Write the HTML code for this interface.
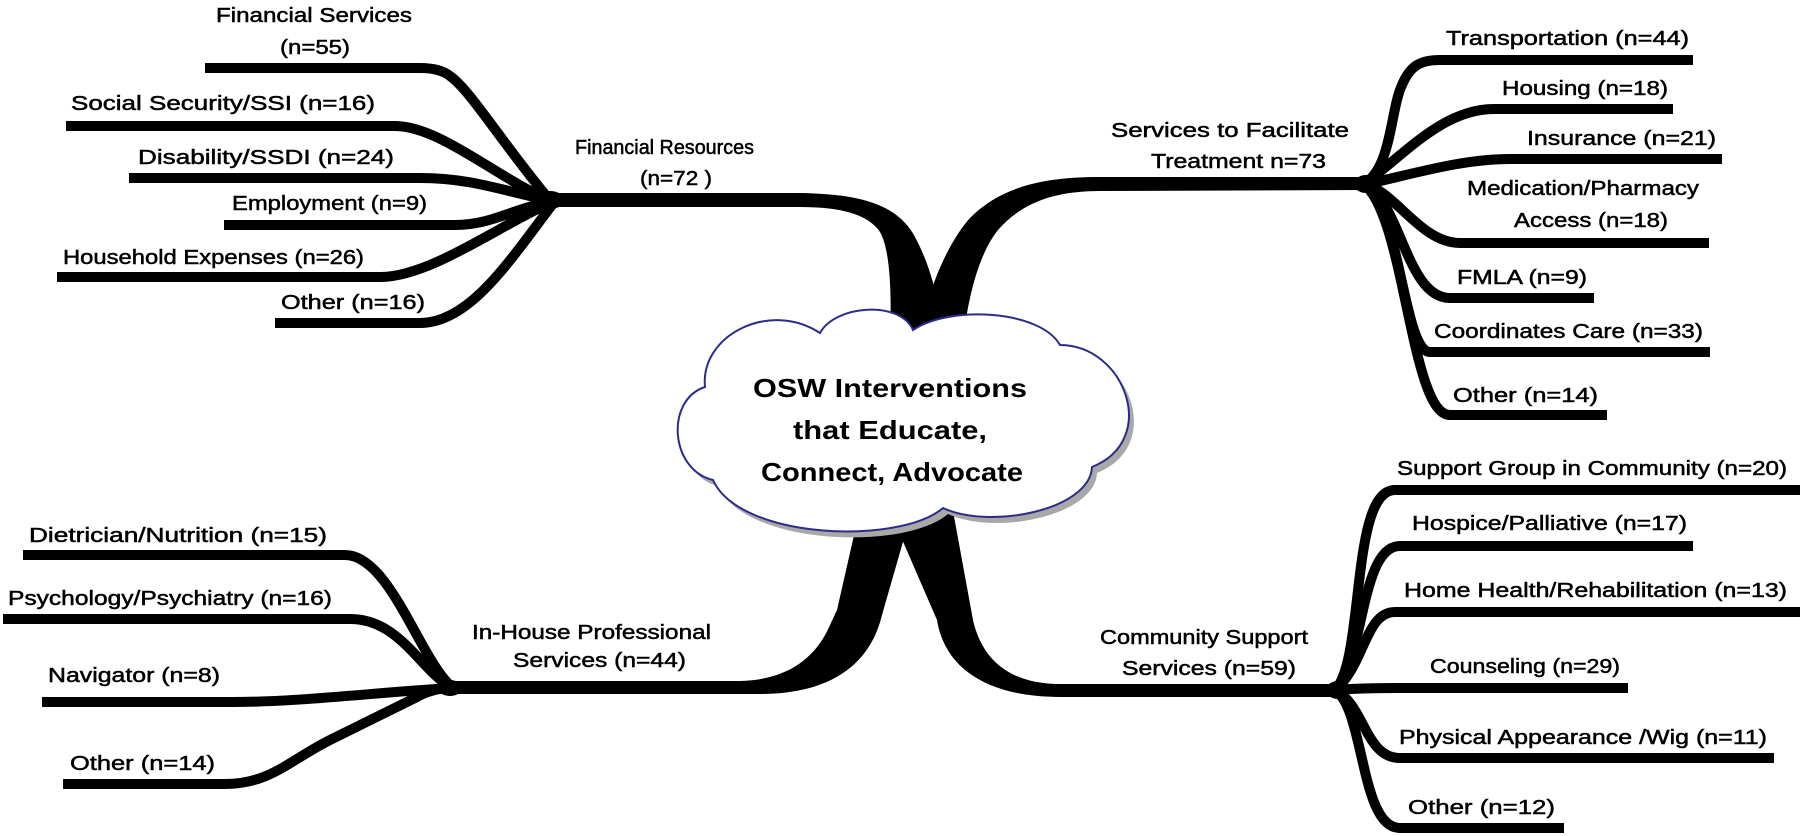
<!DOCTYPE html>
<html>
<head>
<meta charset="utf-8">
<style>
  html,body{margin:0;padding:0;background:#fff;}
  svg{display:block;}
  .lb{font-family:"Comic Sans MS","Liberation Sans",sans-serif;font-size:20px;fill:#000;stroke:#000;stroke-width:0.5px;}
  .tt{font-family:"Comic Sans MS","Liberation Sans",sans-serif;font-size:26px;font-weight:bold;fill:#000;}
  .br{fill:none;stroke:#000;stroke-width:10;stroke-linecap:butt;stroke-linejoin:round;}
</style>
</head>
<body>
<svg width="1800" height="836" viewBox="0 0 1800 836" xmlns="http://www.w3.org/2000/svg">
  <rect width="1800" height="836" fill="#fff"/>

  <!-- Main trunk branches -->
  <!-- Financial Resources (upper-left) -->
  <path d="M 550,193 L 800,193 C 862,194 898,205 915,237 C 930,265 940,300 945,350 L 890,350 C 892,290 890,250 880,232 C 868,214 840,207 800,207 L 550,207 Z" fill="#000"/>
  <!-- Services to Facilitate (upper-right) -->
  <path d="M 1372,177 L 1100,177 C 1040,177 1000,188 970,218 C 950,240 925,290 918,350 L 962,350 C 967,300 978,255 998,230 C 1020,205 1050,191 1100,191 L 1372,190 Z" fill="#000"/>
  <!-- In-House (lower-left) -->
  <path d="M 862,500 L 915,500 L 882,615 C 870,665 830,694 760,694 L 445,694 L 445,681 L 740,681 C 785,680 815,660 830,625 L 837,610 Z" fill="#000"/>
  <!-- Community (lower-right) -->
  <path d="M 885,500 L 951,500 L 973,620 C 982,660 1010,684 1060,684 L 1342,684 L 1342,697 L 1060,697 C 990,697 945,670 937,620 Z" fill="#000"/>

  <!-- Financial sub-branches -->
  <path class="br" d="M 548,198 C 500,140 470,90 450,76 Q 440,68 420,68 L 205,68"/>
  <path class="br" d="M 548,199 C 500,180 440,126 395,126 L 66,126"/>
  <path class="br" d="M 548,200 C 500,190 470,178 420,178 L 129,178"/>
  <path class="br" d="M 548,202 C 510,210 490,225 455,225 L 224,225"/>
  <path class="br" d="M 550,203 C 500,225 430,277 380,277 L 57,277"/>
  <path class="br" d="M 552,205 C 510,260 470,323 420,323 L 275,323"/>
  <ellipse cx="550" cy="200" rx="14" ry="9" fill="#000"/>

  <!-- Services sub-branches -->
  <path class="br" d="M 1362,185 C 1392,170 1390,110 1402,85 C 1410,66 1420,60 1440,60 L 1693,60"/>
  <path class="br" d="M 1362,185 C 1400,160 1440,109 1494,109 L 1673,109"/>
  <path class="br" d="M 1362,185 C 1410,175 1460,159 1510,159 L 1722,159"/>
  <path class="br" d="M 1362,183 C 1395,190 1420,243 1460,243 L 1709,243"/>
  <path class="br" d="M 1362,183 C 1400,195 1405,298 1450,298 L 1594,298"/>
  <path class="br" d="M 1362,183 C 1400,200 1403,352 1430,352 L 1710,352"/>
  <path class="br" d="M 1362,183 C 1405,210 1410,415 1450,415 L 1607,415"/>
  <ellipse cx="1366" cy="184" rx="12" ry="9" fill="#000"/>

  <!-- Community sub-branches -->
  <path class="br" d="M 1335,690 C 1365,660 1350,490 1395,490 L 1800,490"/>
  <path class="br" d="M 1335,690 C 1365,660 1360,546 1400,546 L 1693,546"/>
  <path class="br" d="M 1335,690 C 1365,665 1365,612 1395,612 L 1800,612"/>
  <path class="br" d="M 1335,690 C 1360,688 1380,688 1430,688 L 1628,688"/>
  <path class="br" d="M 1335,690 C 1365,705 1365,758 1400,758 L 1774,758"/>
  <path class="br" d="M 1335,690 C 1365,710 1360,828 1400,828 L 1564,828"/>
  <ellipse cx="1338" cy="690" rx="12" ry="9" fill="#000"/>

  <!-- In-House sub-branches -->
  <path class="br" d="M 452,687 C 420,660 390,555 345,555 L 23,555"/>
  <path class="br" d="M 452,688 C 420,670 400,619 350,619 L 3,619"/>
  <path class="br" d="M 452,688 C 380,692 300,702 233,702 L 42,702"/>
  <path class="br" d="M 452,687 C 435,689 425,692 417,697 L 330,740 C 290,760 270,784 225,784 L 63,784"/>
  <ellipse cx="450" cy="688" rx="12" ry="8" fill="#000"/>

  <!-- Cloud shadow -->
  <path d="M 705,387 C 700,335 770,300 820,333 C 835,305 900,300 913,330 C 950,305 1040,310 1060,345 C 1125,345 1160,440 1092,467 C 1090,510 990,530 943,508 C 900,545 740,540 713,480 C 670,470 665,400 705,387 Z" fill="#a8a8a8" transform="translate(5,6)"/>
  <!-- Cloud -->
  <path d="M 705,387 C 700,335 770,300 820,333 C 835,305 900,300 913,330 C 950,305 1040,310 1060,345 C 1125,345 1160,440 1092,467 C 1090,510 990,530 943,508 C 900,545 740,540 713,480 C 670,470 665,400 705,387 Z" fill="#fff" stroke="#2b2b8c" stroke-width="2"/>

  <text class="tt" x="753" y="397" textLength="274" lengthAdjust="spacingAndGlyphs">OSW Interventions</text>
  <text class="tt" x="793" y="439" textLength="194" lengthAdjust="spacingAndGlyphs">that Educate,</text>
  <text class="tt" x="761" y="481" textLength="262" lengthAdjust="spacingAndGlyphs">Connect, Advocate</text>

  <!-- Labels: Financial -->
  <text class="lb" x="216" y="22" textLength="196" lengthAdjust="spacingAndGlyphs">Financial Services</text>
  <text class="lb" x="280" y="54" textLength="70" lengthAdjust="spacingAndGlyphs">(n=55)</text>
  <text class="lb" x="71" y="110" textLength="304" lengthAdjust="spacingAndGlyphs">Social Security/SSI (n=16)</text>
  <text class="lb" x="138" y="164" textLength="256" lengthAdjust="spacingAndGlyphs">Disability/SSDI (n=24)</text>
  <text class="lb" x="232" y="210" textLength="195" lengthAdjust="spacingAndGlyphs">Employment (n=9)</text>
  <text class="lb" x="63" y="264" textLength="301" lengthAdjust="spacingAndGlyphs">Household Expenses (n=26)</text>
  <text class="lb" x="281" y="309" textLength="144" lengthAdjust="spacingAndGlyphs">Other (n=16)</text>
  <text class="lb" x="575" y="154" textLength="179" lengthAdjust="spacingAndGlyphs">Financial Resources</text>
  <text class="lb" x="640" y="185" textLength="72" lengthAdjust="spacingAndGlyphs">(n=72 )</text>

  <!-- Labels: Services -->
  <text class="lb" x="1111" y="137" textLength="238" lengthAdjust="spacingAndGlyphs">Services to Facilitate</text>
  <text class="lb" x="1151" y="168" textLength="175" lengthAdjust="spacingAndGlyphs">Treatment n=73</text>
  <text class="lb" x="1446" y="45" textLength="243" lengthAdjust="spacingAndGlyphs">Transportation (n=44)</text>
  <text class="lb" x="1502" y="95" textLength="166" lengthAdjust="spacingAndGlyphs">Housing (n=18)</text>
  <text class="lb" x="1527" y="145" textLength="189" lengthAdjust="spacingAndGlyphs">Insurance (n=21)</text>
  <text class="lb" x="1467" y="195" textLength="232" lengthAdjust="spacingAndGlyphs">Medication/Pharmacy</text>
  <text class="lb" x="1514" y="227" textLength="154" lengthAdjust="spacingAndGlyphs">Access (n=18)</text>
  <text class="lb" x="1457" y="284" textLength="130" lengthAdjust="spacingAndGlyphs">FMLA (n=9)</text>
  <text class="lb" x="1434" y="338" textLength="269" lengthAdjust="spacingAndGlyphs">Coordinates Care (n=33)</text>
  <text class="lb" x="1453" y="402" textLength="145" lengthAdjust="spacingAndGlyphs">Other (n=14)</text>

  <!-- Labels: Community -->
  <text class="lb" x="1100" y="644" textLength="208" lengthAdjust="spacingAndGlyphs">Community Support</text>
  <text class="lb" x="1122" y="675" textLength="174" lengthAdjust="spacingAndGlyphs">Services (n=59)</text>
  <text class="lb" x="1397" y="475" textLength="390" lengthAdjust="spacingAndGlyphs">Support Group in Community (n=20)</text>
  <text class="lb" x="1412" y="530" textLength="275" lengthAdjust="spacingAndGlyphs">Hospice/Palliative (n=17)</text>
  <text class="lb" x="1404" y="597" textLength="383" lengthAdjust="spacingAndGlyphs">Home Health/Rehabilitation (n=13)</text>
  <text class="lb" x="1430" y="673" textLength="190" lengthAdjust="spacingAndGlyphs">Counseling (n=29)</text>
  <text class="lb" x="1399" y="744" textLength="368" lengthAdjust="spacingAndGlyphs">Physical Appearance /Wig (n=11)</text>
  <text class="lb" x="1408" y="814" textLength="147" lengthAdjust="spacingAndGlyphs">Other (n=12)</text>

  <!-- Labels: In-House -->
  <text class="lb" x="472" y="639" textLength="239" lengthAdjust="spacingAndGlyphs">In-House Professional</text>
  <text class="lb" x="513" y="667" textLength="173" lengthAdjust="spacingAndGlyphs">Services (n=44)</text>
  <text class="lb" x="29" y="542" textLength="298" lengthAdjust="spacingAndGlyphs">Dietrician/Nutrition (n=15)</text>
  <text class="lb" x="8" y="605" textLength="324" lengthAdjust="spacingAndGlyphs">Psychology/Psychiatry (n=16)</text>
  <text class="lb" x="48" y="682" textLength="172" lengthAdjust="spacingAndGlyphs">Navigator (n=8)</text>
  <text class="lb" x="70" y="770" textLength="145" lengthAdjust="spacingAndGlyphs">Other (n=14)</text>
</svg>
</body>
</html>
